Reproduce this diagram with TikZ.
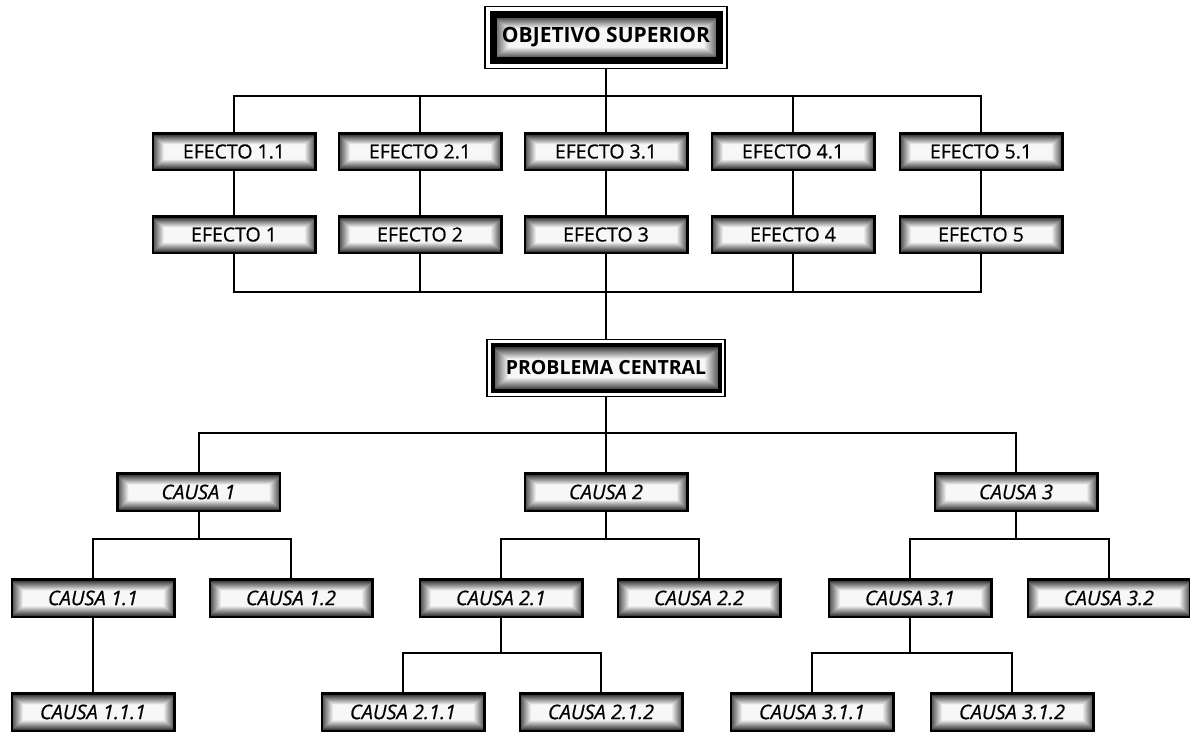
\documentclass[tikz,border=0pt]{standalone}
\usepackage{fontspec}
\setmainfont{Open Sans}
\newfontfamily\boxfont{Open Sans}[FakeBold=0.6]
\usetikzlibrary{fit}
\pgfdeclarefunctionalshading{boxshade}{\pgfpoint{-50bp}{-50bp}}{\pgfpoint{50bp}{50bp}}{}{
  abs 25 exch sub 15 div dup 1 gt {pop 1} if dup 0 lt {pop 0} if 0.85 mul 0.12 add
  exch abs 25 exch sub 3.5 div dup 1 gt {pop 1} if dup 0 lt {pop 0} if 0.7 mul 0.28 add
  2 copy gt {exch} if pop
  dup dup
}
\tikzset{
  box/.style={draw=black, line width=2.5pt, shading=boxshade, shade,
    minimum width=162.5pt, minimum height=36.5pt, inner sep=0pt,
    font=\boxfont\fontsize{19.5}{21}\selectfont},
  causa/.style={box, minimum height=37.5pt, font=\boxfont\fontsize{20}{22}\selectfont\itshape},
  mainbox/.style={box, font=\fontsize{21}{23}\selectfont\bfseries},
  frame/.style={draw=black, line width=1.5pt, inner sep=#1},
  conn/.style={draw=black, line width=2pt}
}
\begin{document}
\begin{tikzpicture}[x=1pt,y=-1pt]
\useasboundingbox (0,0) rectangle (1190,731);
\clip (0,0) rectangle (1190,731);

% top
\node[mainbox, line width=7pt, minimum width=226pt, minimum height=46pt] (obj) at (606,37.5) {OBJETIVO SUPERIOR};
\node[frame=4.5pt, fit=(obj)] (objf) {};

% effects
\node[box] (e11) at (234,151.5) {EFECTO 1.1};
\node[box] (e21) at (420,151.5) {EFECTO 2.1};
\node[box] (e31) at (606,151.5) {EFECTO 3.1};
\node[box] (e41) at (793,151.5) {EFECTO 4.1};
\node[box] (e51) at (981,151.5) {EFECTO 5.1};
\node[box] (e1) at (234,234.5) {EFECTO 1};
\node[box] (e2) at (420,234.5) {EFECTO 2};
\node[box] (e3) at (606,234.5) {EFECTO 3};
\node[box] (e4) at (793,234.5) {EFECTO 4};
\node[box] (e5) at (981,234.5) {EFECTO 5};

% central problem
\node[mainbox, line width=4pt, minimum width=227pt, minimum height=46pt, font=\fontsize{19.5}{22}\selectfont\bfseries] (pc) at (606,368) {PROBLEMA CENTRAL};
\node[frame=3.5pt, fit=(pc)] (pcf) {};

% causes
\node[causa] (c1) at (198.5,492) {CAUSA 1};
\node[causa] (c2) at (606,492) {CAUSA 2};
\node[causa] (c3) at (1016,492) {CAUSA 3};
\node[causa] (c11) at (93,598) {CAUSA 1.1};
\node[causa] (c12) at (291,598) {CAUSA 1.2};
\node[causa] (c21) at (501,598) {CAUSA 2.1};
\node[causa] (c22) at (699,598) {CAUSA 2.2};
\node[causa] (c31) at (910,598) {CAUSA 3.1};
\node[causa] (c32) at (1109,598) {CAUSA 3.2};
\node[causa] (c111) at (93,712) {CAUSA 1.1.1};
\node[causa] (c211) at (403,712) {CAUSA 2.1.1};
\node[causa] (c212) at (601,712) {CAUSA 2.1.2};
\node[causa] (c311) at (812,712) {CAUSA 3.1.1};
\node[causa] (c312) at (1012,712) {CAUSA 3.1.2};

% junction coordinates
\coordinate (t1) at (606,96);
\coordinate (t2) at (606,292);
\coordinate (t3) at (606,433);
\coordinate (j1) at (198.5,539);
\coordinate (j2) at (606,539);
\coordinate (j3) at (1016,539);
\coordinate (k2) at (501,653);
\coordinate (k3) at (910,653);

% connectors
\draw[conn] (objf.south) -- (t1);
\draw[conn] (e11.north) |- (t1) -| (e51.north);
\foreach \n in {e21,e31,e41} \draw[conn] (\n.north) -- (\n.north |- t1);
\foreach \a/\b in {e11/e1,e21/e2,e31/e3,e41/e4,e51/e5} \draw[conn] (\a.south) -- (\b.north);
\draw[conn] (e1.south) |- (t2) -| (e5.south);
\foreach \n in {e2,e4} \draw[conn] (\n.south) -- (\n.south |- t2);
\draw[conn] (e3.south) -- (pcf.north);
\draw[conn] (pcf.south) -- (t3);
\draw[conn] (c1.north) |- (t3) -| (c3.north);
\draw[conn] (c2.north) -- (t3);
\draw[conn] (c1.south) -- (j1);
\draw[conn] (c11.north) |- (j1) -| (c12.north);
\draw[conn] (c2.south) -- (j2);
\draw[conn] (c21.north) |- (j2) -| (c22.north);
\draw[conn] (c3.south) -- (j3);
\draw[conn] (c31.north) |- (j3) -| (c32.north);
\draw[conn] (c11.south) -- (c111.north);
\draw[conn] (c21.south) -- (k2);
\draw[conn] (c211.north) |- (k2) -| (c212.north);
\draw[conn] (c31.south) -- (k3);
\draw[conn] (c311.north) |- (k3) -| (c312.north);
\end{tikzpicture}
\end{document}
